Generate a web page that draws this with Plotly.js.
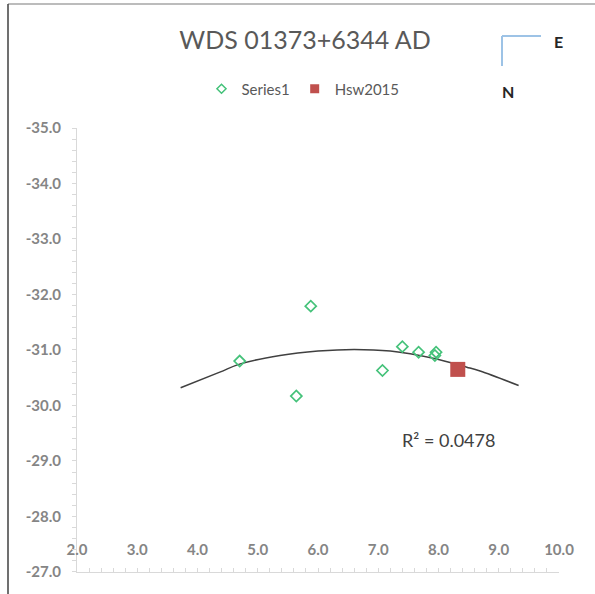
<!DOCTYPE html>
<html>
<head>
<meta charset="utf-8">
<script src="https://cdn.plot.ly/plotly-3.0.1.min.js"></script>
<style>html,body{margin:0;padding:0;background:#fff;}#chart{width:595px;height:594px;}</style>
</head>
<body>
<div id="chart"></div>
<script>
// Series1 (green open diamonds)
const series1X = [4.70, 5.88, 5.64, 7.07, 7.40, 7.67, 7.96, 7.94];
const series1Y = [-30.80, -31.79, -30.17, -30.63, -31.06, -30.96, -30.96, -30.90];
// Hsw2015 (red square)
const hswX = [8.32];
const hswY = [-30.65];
// Polynomial trendline
const trendX = [3.72, 4.37, 4.71, 5.37, 6.00, 6.60, 7.20, 7.91, 8.47, 8.69, 9.33];
const trendY = [-30.32, -30.60, -30.75, -30.90, -30.98, -31.01, -30.98, -30.85, -30.69, -30.62, -30.36];
const xTickVals = [2, 3, 4, 5, 6, 7, 8, 9, 10];
const xTickText = ['2.0', '3.0', '4.0', '5.0', '6.0', '7.0', '8.0', '9.0', '10.0'];
const yTickVals = [-35, -34, -33, -32, -31, -30, -29, -28, -27];
const yTickText = ['-35.0', '-34.0', '-33.0', '-32.0', '-31.0', '-30.0', '-29.0', '-28.0', '-27.0'];
const rSquaredText = 'R² = 0.0478';

const W = 595, H = 594;
const L = 77, R = 559, T = 128, B = 572;
const px = v => (v - L) / (R - L);
const py = v => (B - v) / (B - T);

const green = '#45c27a';
const red = '#c0504d';

const traces = [
  {x: trendX, y: trendY, mode: 'lines', line: {color: '#404040', width: 1.5, shape: 'spline'},
   showlegend: false, hoverinfo: 'skip'},
  {x: series1X, y: series1Y, mode: 'markers', name: 'Series1', showlegend: false,
   marker: {symbol: 'diamond-open', size: 8.5, color: green, line: {width: 1.7, color: green}}},
  {x: hswX, y: hswY, mode: 'markers', name: 'Hsw2015', showlegend: false,
   marker: {symbol: 'square', size: 15, color: red}},
  {x: [null], y: [null], mode: 'markers', name: 'Series1',
   marker: {symbol: 'diamond-open', size: 7, color: green, line: {width: 1.5, color: green}}},
  {x: [null], y: [null], mode: 'markers', name: 'Hsw2015',
   marker: {symbol: 'square', size: 9, color: red}}
];

const tickFont = {family: 'Lato, sans-serif', size: 15, color: '#858585', weight: 700};

const layout = {
  width: W, height: H,
  margin: {l: L, r: W - R, t: T, b: H - B, pad: 0},
  paper_bgcolor: '#fff', plot_bgcolor: '#fff',
  font: {family: 'Lato, sans-serif', color: '#595959'},
  title: {text: 'WDS 01373+6344 AD', x: 305 / W, xanchor: 'center', xref: 'container',
          y: 1 - 40 / H, yanchor: 'middle', yref: 'container',
          font: {family: 'Lato, sans-serif', size: 25, color: '#595959'}},
  showlegend: true,
  legend: {orientation: 'h', xref: 'container', yref: 'container', x: 303 / W, xanchor: 'center',
           y: 1 - 89 / H, yanchor: 'middle', font: {family: 'Lato, sans-serif', size: 15, color: '#595959'},
           itemwidth: 30, tracegroupgap: 0, bgcolor: 'rgba(0,0,0,0)'},
  xaxis: {range: [2, 10], tickvals: xTickVals, ticktext: xTickText, showgrid: false, zeroline: false,
          showline: true, linecolor: '#d9d9d9', linewidth: 1,
          ticks: 'inside', ticklen: 4, tickcolor: '#d9d9d9', ticklabelposition: 'inside',
          ticklabeloverflow: 'allow', ticklabelstandoff: 10,
          minor: {dtick: 0.2, ticks: 'inside', ticklen: 4, tickcolor: '#d9d9d9'},
          tickfont: tickFont},
  yaxis: {range: [-26.999, -35], tickvals: yTickVals, ticktext: yTickText, showgrid: false, zeroline: false,
          showline: true, linecolor: '#d9d9d9', linewidth: 1,
          ticks: 'outside', ticklen: 4, tickcolor: '#d9d9d9', ticklabeloverflow: 'allow',
          minor: {dtick: 0.2, ticks: 'outside', ticklen: 4, tickcolor: '#d9d9d9'},
          tickfont: tickFont, ticklabelstandoff: 8},
  annotations: [
    {text: rSquaredText, xref: 'paper', yref: 'paper', x: px(448), y: py(440), xanchor: 'center', yanchor: 'middle',
     showarrow: false, font: {family: 'Lato, sans-serif', size: 18, color: '#404040'}},
    {text: '<b>E</b>', xref: 'paper', yref: 'paper', x: px(558.5), y: py(42), xanchor: 'center', yanchor: 'middle',
     showarrow: false, font: {family: 'Lato, sans-serif', size: 16, color: '#262626'}},
    {text: '<b>N</b>', xref: 'paper', yref: 'paper', x: px(508), y: py(92), xanchor: 'center', yanchor: 'middle',
     showarrow: false, font: {family: 'Lato, sans-serif', size: 16, color: '#262626'}}
  ],
  shapes: [
    {type: 'line', xref: 'paper', yref: 'paper', x0: px(502), y0: py(36), x1: px(541), y1: py(36),
     line: {color: '#9dc3e6', width: 2}},
    {type: 'line', xref: 'paper', yref: 'paper', x0: px(502), y0: py(36), x1: px(502), y1: py(66),
     line: {color: '#9dc3e6', width: 2}},
    {type: 'line', xref: 'paper', yref: 'paper', x0: px(8), y0: py(4), x1: px(600), y1: py(4),
     line: {color: '#a6a6a6', width: 1.5}},
    {type: 'line', xref: 'paper', yref: 'paper', x0: px(8), y0: py(4), x1: px(8), y1: py(600),
     line: {color: '#404040', width: 1.5}}
  ]
};

Plotly.newPlot('chart', traces, layout, {displayModeBar: false, staticPlot: true});
</script>
</body>
</html>
